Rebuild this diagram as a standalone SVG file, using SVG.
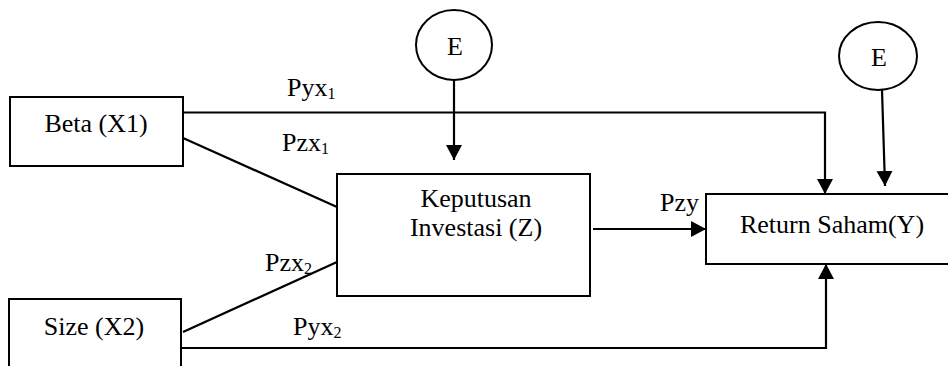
<svg xmlns="http://www.w3.org/2000/svg" width="948" height="366" viewBox="0 0 948 366">
<defs>
<marker id="arr" markerUnits="userSpaceOnUse" markerWidth="18" markerHeight="18" refX="15" refY="8" orient="auto">
<path d="M0,0 L15,8 L0,16 Z" fill="#000"/>
</marker>
</defs>
<rect width="948" height="366" fill="#fff"/>
<g id="connectors" fill="none" stroke="#000" stroke-width="2.2">
<polyline points="183,112.5 825,112.5 825,194" marker-end="url(#arr)"/>
<line x1="454" y1="80" x2="454" y2="160" marker-end="url(#arr)"/>
<line x1="882" y1="90" x2="885" y2="186" marker-end="url(#arr)"/>
<line x1="183" y1="138" x2="337" y2="207"/>
<line x1="183" y1="332" x2="337" y2="262"/>
<polyline points="181,348 826,348 826,264" marker-end="url(#arr)"/>
<line x1="593" y1="229" x2="706" y2="229" marker-end="url(#arr)"/>
</g>
<g id="labels" font-family="Liberation Serif" font-size="26" fill="#000">
<text x="287" y="96">Pyx<tspan font-size="16" dy="3">1</tspan></text>
<text x="282" y="151">Pzx<tspan font-size="16" dy="3">1</tspan></text>
<text x="265" y="271">Pzx<tspan font-size="16" dy="3">2</tspan></text>
<text x="293" y="335">Pyx<tspan font-size="16" dy="3">2</tspan></text>
<text x="660" y="211">Pzy</text>
</g>
<g font-family="Liberation Serif" font-size="26" text-anchor="middle">
<g id="beta">
<rect x="10" y="97" width="173" height="69" fill="#fff" stroke="#000" stroke-width="2"/>
<text x="96" y="132">Beta (X1)</text>
</g>
<g id="size">
<rect x="9" y="299" width="172" height="90" fill="#fff" stroke="#000" stroke-width="2"/>
<text x="94" y="335">Size (X2)</text>
</g>
<g id="keputusan">
<rect x="337" y="174" width="253" height="122" fill="#fff" stroke="#000" stroke-width="2"/>
<text x="476" y="207">Keputusan</text>
<text x="476" y="236">Investasi (Z)</text>
</g>
<g id="return">
<rect x="706" y="194" width="250" height="70" fill="#fff" stroke="#000" stroke-width="2"/>
<text x="832" y="233">Return Saham(Y)</text>
</g>
<g id="e1">
<ellipse cx="454" cy="45" rx="38" ry="35" fill="#fff" stroke="#000" stroke-width="2"/>
<text x="455" y="55">E</text>
</g>
<g id="e2">
<ellipse cx="878" cy="56" rx="39" ry="34" fill="#fff" stroke="#000" stroke-width="2"/>
<text x="879" y="66">E</text>
</g>
</g>
</svg>
